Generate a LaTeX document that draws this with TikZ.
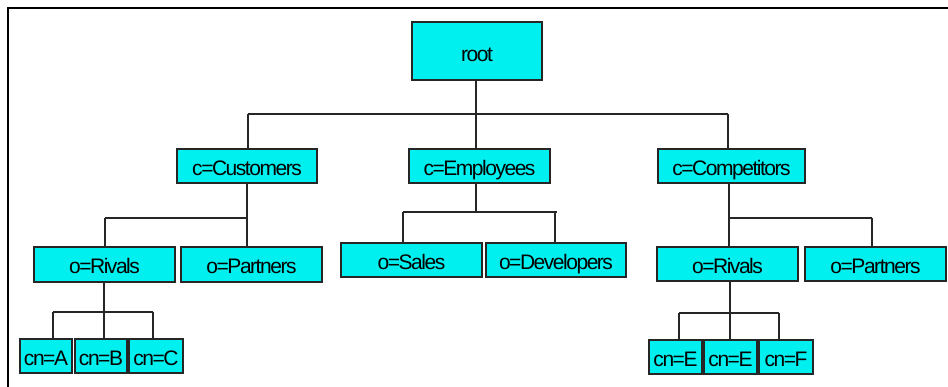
\documentclass[tikz,border=0pt]{standalone}
\usepackage{fontspec}
\setmainfont{Liberation Sans}
\newfontfamily\boxfont[LetterSpace=-7]{Liberation Sans}
\definecolor{boxcyan}{RGB}{0,240,240}
\begin{document}
\begin{tikzpicture}[x=1pt,y=-1pt,
  entry/.style={draw=black!85,line width=1.6pt,fill=boxcyan,inner sep=0pt,
    text height=19pt,text depth=0pt,
    font=\boxfont\fontsize{21}{21}\selectfont},
  link/.style={draw=black!85,line width=1.3pt},
  mainbar/.style={draw=black!85,line width=2pt}]
\useasboundingbox (0,0) rectangle (948,387);
\draw[line width=1.5pt] (8,387) -- (8,8) -- (948,8);
% nodes
\node[entry,minimum width=130pt,minimum height=58pt,text height=21pt] (root) at (477,51) {root};
\node[entry,minimum width=140pt,minimum height=34pt] (cust) at (247,166) {c=Customers};
\node[entry,minimum width=141pt,minimum height=34pt] (emp) at (479.5,166) {c=Employees};
\node[entry,minimum width=147pt,minimum height=34pt] (comp) at (731.5,166) {c=Competitors};
\node[entry,minimum width=141pt,minimum height=35pt] (rivL) at (104.5,264.5) {o=Rivals};
\node[entry,minimum width=141pt,minimum height=35pt] (partL) at (251.5,264.5) {o=Partners};
\node[entry,minimum width=141pt,minimum height=34pt] (sales) at (411.5,260) {o=Sales};
\node[entry,minimum width=140pt,minimum height=34pt] (dev) at (556,260) {o=Developers};
\node[entry,minimum width=141pt,minimum height=34pt] (rivR) at (727.5,264) {o=Rivals};
\node[entry,minimum width=141pt,minimum height=34pt] (partR) at (875.5,264) {o=Partners};
\node[entry,minimum width=52pt,minimum height=34pt] (cnA) at (46,356) {cn=A};
\node[entry,minimum width=52pt,minimum height=34pt] (cnB) at (101,356) {cn=B};
\node[entry,minimum width=54pt,minimum height=34pt] (cnC) at (156,356) {cn=C};
\node[entry,minimum width=53pt,minimum height=34pt] (cnE) at (675.5,357) {cn=E};
\node[entry,minimum width=53pt,minimum height=34pt] (cnEE) at (730.5,357) {cn=E};
\node[entry,minimum width=54pt,minimum height=34pt] (cnF) at (786,357) {cn=F};
% root level
\coordinate (r0) at (476,114);
\coordinate (r0L) at (248,114);
\coordinate (r0R) at (728,114);
\draw[link] (root.south -| r0) -- (r0);
\draw[mainbar] (r0L) -- (r0R);
\draw[link] (r0L) -- (r0L |- cust.north);
\draw[link] (r0) -- (r0 |- emp.north);
\draw[link] (r0R) -- (r0R |- comp.north);
% customers
\coordinate (c0) at (247,218);
\coordinate (c0L) at (105,218);
\draw[link] (cust.south -| c0) -- (c0);
\draw[link] (c0L) -- (c0);
\draw[link] (c0L) -- (c0L |- rivL.north);
\draw[link] (c0) -- (c0 |- partL.north);
% employees
\coordinate (e0) at (476,212);
\coordinate (e0L) at (403,212);
\coordinate (e0R) at (557,212);
\coordinate (e0D) at (555,212);
\draw[link] (emp.south -| e0) -- (e0);
\draw[link] (e0L) -- (e0R);
\draw[link] (e0L) -- (e0L |- sales.north);
\draw[link] (e0D) -- (e0D |- dev.north);
% competitors
\coordinate (k0) at (729,218);
\coordinate (k0R) at (872,218);
\draw[link] (comp.south -| k0) -- (k0 |- rivR.north);
\draw[link] (k0) -- (k0R);
\draw[link] (k0R) -- (k0R |- partR.north);
% rivals left
\coordinate (l0) at (104,312);
\coordinate (l0L) at (53,312);
\coordinate (l0R) at (153,312);
\draw[link] (rivL.south -| l0) -- (l0);
\draw[link] (l0L) -- (l0R);
\draw[link] (l0L) -- (l0L |- cnA.north);
\draw[link] (l0) -- (l0 |- cnB.north);
\draw[link] (l0R) -- (l0R |- cnC.north);
% rivals right
\coordinate (m0) at (730,313);
\coordinate (m0L) at (679,313);
\coordinate (m0R) at (779,313);
\draw[link] (rivR.south -| m0) -- (m0);
\draw[link] (m0L) -- (m0R);
\draw[link] (m0L) -- (m0L |- cnE.north);
\draw[link] (m0) -- (m0 |- cnEE.north);
\draw[link] (m0R) -- (m0R |- cnF.north);
\end{tikzpicture}
\end{document}
